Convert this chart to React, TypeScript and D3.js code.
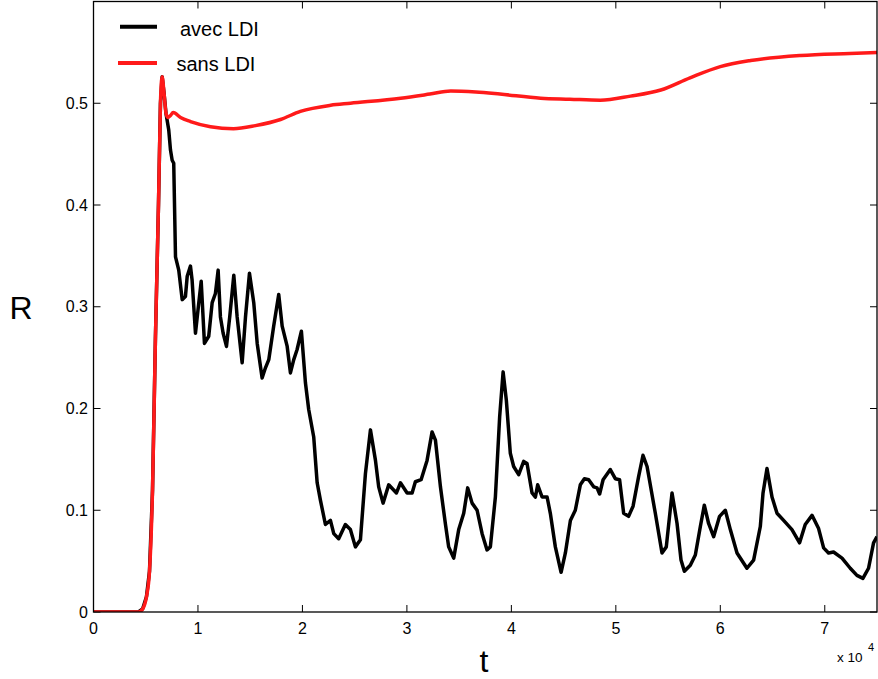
import React from "react";
import * as d3 from "d3";

// t values are in units of 10^4 (axis shows "x 10^4")
const tAvec = [
  0, 0.43, 0.47, 0.507, 0.536, 0.565, 0.593, 0.622, 0.641, 0.657, 0.675, 0.694,
  0.72, 0.737, 0.753, 0.768, 0.785, 0.816, 0.849, 0.88, 0.897, 0.928, 0.944, 0.976,
  1.008, 1.031, 1.062, 1.103, 1.136, 1.167, 1.193, 1.215, 1.241, 1.273, 1.304, 1.343,
  1.375, 1.423, 1.455, 1.493, 1.534, 1.567, 1.614, 1.646, 1.678, 1.725, 1.773, 1.806,
  1.854, 1.885, 1.917, 1.949, 1.99, 2.029, 2.06, 2.108, 2.141, 2.172, 2.22, 2.268,
  2.3, 2.347, 2.411, 2.459, 2.507, 2.555, 2.603, 2.651, 2.699, 2.73, 2.772, 2.826,
  2.9, 2.938, 3.002, 3.05, 3.081, 3.136, 3.193, 3.241, 3.273, 3.321, 3.368, 3.4,
  3.448, 3.496, 3.544, 3.582, 3.624, 3.672, 3.72, 3.767, 3.799, 3.847, 3.888, 3.921,
  3.952, 3.99, 4.022, 4.07, 4.118, 4.15, 4.198, 4.23, 4.252, 4.294, 4.342, 4.373,
  4.421, 4.476, 4.517, 4.565, 4.612, 4.66, 4.699, 4.74, 4.788, 4.82, 4.845, 4.878,
  4.947, 4.995, 5.036, 5.075, 5.122, 5.165, 5.218, 5.26, 5.299, 5.378, 5.442, 5.483,
  5.538, 5.586, 5.624, 5.656, 5.713, 5.761, 5.809, 5.847, 5.888, 5.936, 5.993, 6.048,
  6.096, 6.16, 6.255, 6.319, 6.383, 6.409, 6.447, 6.495, 6.543, 6.606, 6.686, 6.759,
  6.813, 6.878, 6.941, 6.989, 7.036, 7.084, 7.165, 7.244, 7.308, 7.365, 7.419, 7.467,
  7.5,
];
const rAvec = [
  0, 0, 0.003, 0.015, 0.04, 0.12, 0.27, 0.4, 0.5, 0.526, 0.51, 0.49,
  0.474, 0.454, 0.444, 0.441, 0.349, 0.336, 0.307, 0.31, 0.33, 0.34, 0.326, 0.274,
  0.304, 0.325, 0.264, 0.271, 0.304, 0.313, 0.336, 0.29, 0.274, 0.261, 0.29, 0.331,
  0.29, 0.245, 0.29, 0.333, 0.304, 0.264, 0.23, 0.24, 0.248, 0.281, 0.312, 0.281,
  0.261, 0.235, 0.248, 0.258, 0.276, 0.225, 0.199, 0.172, 0.127, 0.11, 0.086, 0.09,
  0.077, 0.072, 0.086, 0.081, 0.064, 0.071, 0.136, 0.179, 0.149, 0.123, 0.107, 0.125,
  0.117, 0.127, 0.117, 0.117, 0.128, 0.13, 0.149, 0.177, 0.169, 0.123, 0.087, 0.064,
  0.053, 0.081, 0.097, 0.122, 0.107, 0.1, 0.077, 0.061, 0.064, 0.113, 0.192, 0.236,
  0.208, 0.156, 0.143, 0.135, 0.148, 0.146, 0.117, 0.113, 0.125, 0.113, 0.113, 0.097,
  0.064, 0.039, 0.058, 0.09, 0.1, 0.125, 0.131, 0.13, 0.123, 0.122, 0.116, 0.13,
  0.14, 0.131, 0.13, 0.097, 0.094, 0.104, 0.133, 0.154, 0.143, 0.097, 0.058, 0.064,
  0.117, 0.087, 0.051, 0.04, 0.046, 0.056, 0.084, 0.105, 0.087, 0.074, 0.094, 0.1,
  0.081, 0.058, 0.043, 0.051, 0.084, 0.117, 0.141, 0.113, 0.097, 0.09, 0.081, 0.068,
  0.086, 0.095, 0.082, 0.063, 0.058, 0.059, 0.053, 0.043, 0.036, 0.033, 0.043, 0.068,
  0.074,
];

const tSans = [
  0, 0.43, 0.47, 0.507, 0.536, 0.565, 0.593, 0.622, 0.641, 0.657, 0.675, 0.694,
  0.711, 0.737, 0.763, 0.833, 0.928, 1.12, 1.34, 1.55, 1.79, 1.98, 2.27, 2.46,
  2.94, 3.22, 3.42, 3.66, 3.89, 4.28, 4.56, 4.85, 5.14, 5.43, 5.71, 6.0, 6.29,
  6.77, 7.24, 7.5,
];
const rSans = [
  0, 0, 0.003, 0.015, 0.04, 0.12, 0.27, 0.4, 0.5, 0.526, 0.51, 0.49,
  0.486, 0.488, 0.491, 0.486, 0.482, 0.477, 0.475, 0.478, 0.484, 0.492, 0.498, 0.5,
  0.505, 0.509, 0.512, 0.511, 0.509, 0.505, 0.504, 0.503, 0.507, 0.513, 0.525, 0.536, 0.542,
  0.547, 0.549, 0.55,
];

const xTicks = [0, 1, 2, 3, 4, 5, 6, 7];
const yTicks = [0, 0.1, 0.2, 0.3, 0.4, 0.5];
const seriesNames = ["avec LDI", "sans LDI"];
const seriesColors = ["#000000", "#ff1a1a"];

const W = 878;
const H = 679;
const FONT = "'Liberation Sans', Arial, Helvetica, sans-serif";

export default function App() {
  const left = 93.5;
  const right = 877;
  const top = 1.5;
  const bottom = 612;
  const x = d3.scaleLinear().domain([0, 7.5]).range([left, right]);
  const y = d3.scaleLinear().domain([0, 0.6]).range([bottom, top]);

  const line = d3
    .line<[number, number]>()
    .x((d) => x(d[0]))
    .y((d) => y(d[1]))
    .curve(d3.curveLinear);

  const avec = tAvec.map((t, i) => [t, rAvec[i]] as [number, number]);
  const sans = tSans.map((t, i) => [t, rSans[i]] as [number, number]);
  const sansSmooth = d3
    .line<[number, number]>()
    .x((d) => x(d[0]))
    .y((d) => y(d[1]))
    .curve(d3.curveMonotoneX);

  const tickLen = 7;

  return (
    <svg
      width={W}
      height={H}
      style={{ position: "absolute", left: 0, top: 0, background: "#fff" }}
      fontFamily={FONT}
    >
      <rect x={0} y={0} width={W} height={H} fill="#fff" />
      <defs>
        <clipPath id="plotclip">
          <rect x={left} y={top} width={right - left} height={bottom - top} />
        </clipPath>
      </defs>

      {/* ticks */}
      {xTicks.map((t) => (
        <g key={"xt" + t}>
          <line x1={x(t)} x2={x(t)} y1={bottom} y2={bottom - tickLen} stroke="#000" strokeWidth={1} />
          <line x1={x(t)} x2={x(t)} y1={top} y2={top + tickLen} stroke="#000" strokeWidth={1} />
          <text x={x(t)} y={634} textAnchor="middle" fontSize={16} fill="#000">
            {d3.format("d")(t)}
          </text>
        </g>
      ))}
      {yTicks.map((v) => (
        <g key={"yt" + v}>
          <line x1={left} x2={left + tickLen} y1={y(v)} y2={y(v)} stroke="#000" strokeWidth={1} />
          <line x1={right} x2={right - tickLen} y1={y(v)} y2={y(v)} stroke="#000" strokeWidth={1} />
          <text x={88} y={y(v) + 5.5} textAnchor="end" fontSize={16} fill="#000">
            {v === 0 ? "0" : d3.format(".1f")(v)}
          </text>
        </g>
      ))}

      {/* curves */}
      <g clipPath="url(#plotclip)">
        <path d={line(avec) || ""} fill="none" stroke={seriesColors[0]} strokeWidth={3.5} strokeLinejoin="round" />
        <path d={sansSmooth(sans) || ""} fill="none" stroke={seriesColors[1]} strokeWidth={3.5} strokeLinejoin="round" />
      </g>

      {/* frame */}
      <rect x={left} y={top} width={right - left} height={bottom - top} fill="none" stroke="#000" strokeWidth={1.3} />

      {/* axis labels */}
      <text x={484} y={672} textAnchor="middle" fontSize={32} fill="#000">t</text>
      <text x={21} y={319} textAnchor="middle" fontSize={32} fill="#000">R</text>
      <text x={837} y={662} fontSize={13.5} fill="#000">x 10</text>
      <text x={868} y={651} fontSize={11} fill="#000">4</text>

      {/* legend */}
      {seriesNames.map((name, i) => (
        <g key={name}>
          <line
            x1={i === 0 ? 120 : 118}
            x2={157}
            y1={i === 0 ? 26.7 : 63}
            y2={i === 0 ? 26.7 : 63}
            stroke={seriesColors[i]}
            strokeWidth={4}
          />
          <text x={i === 0 ? 180 : 176.5} y={i === 0 ? 35.7 : 70.5} fontSize={20} fill="#000">
            {name}
          </text>
        </g>
      ))}
    </svg>
  );
}
